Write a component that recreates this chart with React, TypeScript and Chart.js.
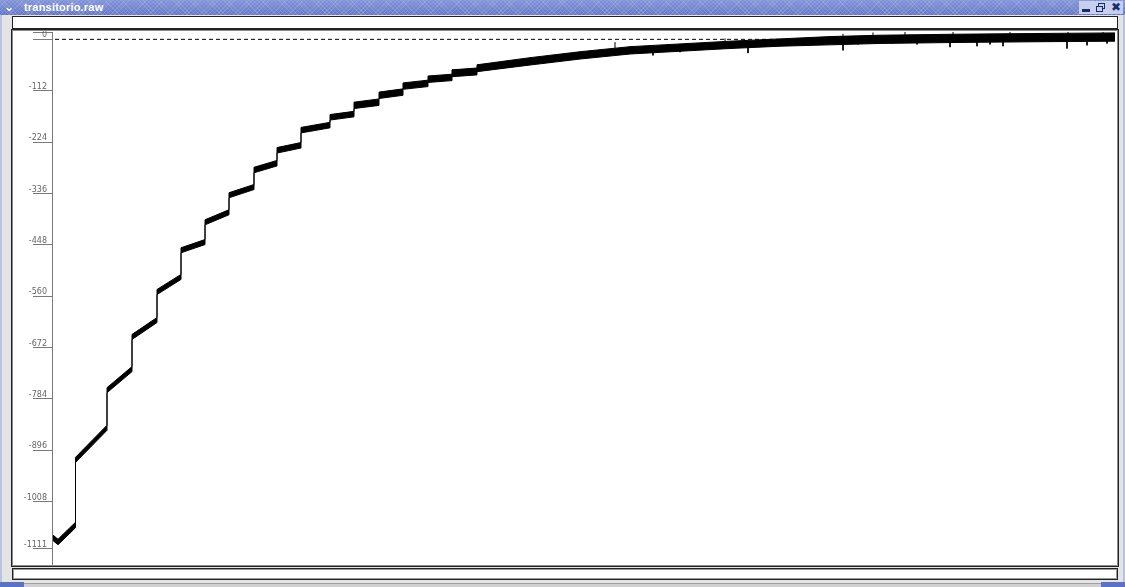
import React, { useEffect, useRef } from "react";
import { Chart, registerables } from "chart.js";

Chart.register(...registerables);

// time axis in samples (arbitrary units), signal in raw units
const timeMin = 0;
const timeMax = 1063;
const valueMin = -1144;
const valueMax = 16;

// y tick values shown on the axis
const tickValues = [16, 0, -112, -224, -336, -448, -560, -672, -784, -896, -1008, -1111];

// centre of the noisy trace (duplicate times mark the vertical steps)
const traceT = [
  1, 6, 23.5,
  23.5, 55,
  55, 80,
  80, 105,
  105, 129,
  129, 153,
  153, 177,
  177, 202,
  202, 225,
  225, 249,
  249, 278,
  278, 302,
  302, 327,
  327, 351,
  351, 376,
  376, 400,
  400, 425,
  425, 478, 528, 578, 628, 678, 728, 778, 828, 898, 948, 998, 1063,
];
const traceV = [
  -1087, -1096, -1059,
  -917, -847,
  -765, -719,
  -649, -612,
  -551, -518,
  -460, -442,
  -399, -377,
  -340, -322,
  -285, -270,
  -242, -231,
  -198, -187,
  -170, -163,
  -144, -137,
  -122, -115,
  -102, -96,
  -87, -83,
  -74, -70,
  -63, -48, -35, -24, -18, -12, -7, -3, 0, 2, 3, 4, 5,
];
// half thickness of the noise band at each point
const noiseHW = [
  6, 6, 6,
  5.5, 5.5,
  5.5, 5.5,
  5.5, 5.5,
  5.5, 5.5,
  5.5, 5.5,
  5.5, 5.5,
  5.5, 5.5,
  6, 6,
  6, 6,
  6, 6,
  6, 6,
  7, 7,
  7, 7,
  7, 7,
  7, 7,
  7.5, 7.5,
  7.5, 8, 8, 8, 8, 8, 8, 9, 9, 9, 9, 9, 9,
];

// isolated noise spikes: time, band value, tip value
const spikeT = [601, 628, 696, 791, 806, 840, 865, 898, 925, 938, 951, 1015, 1035, 1055, 563, 673, 791, 821, 853, 901, 958, 1016, 1051];
const spikeBase = [-21, -18, -10, -2, -1, 0, 1, 2, 2, 3, 3, 4, 5, 5, -27, -12, -2, 0, 1, 2, 3, 4, 5];
const spikeTip = [-35, -28, -30, -24, -11, -9, -11, -17, -15, -11, -15, -20, -13, -9, -6, 2, 12, 15, 16, 16, 16, 16, 16];

// dashed reference line at zero
const zeroT = [3, 1063];
const zeroV = [0, 0];

export default function App() {
  const canvasRef = useRef<HTMLCanvasElement | null>(null);

  useEffect(() => {
    const canvas = canvasRef.current;
    if (!canvas) return;
    const upper = traceT.map((t, i) => ({ x: t, y: traceV[i] + noiseHW[i] }));
    const lower = traceT.map((t, i) => ({ x: t, y: traceV[i] - noiseHW[i] }));
    const zero = zeroT.map((t, i) => ({ x: t, y: zeroV[i] }));
    const spikes: { x: number; y: number | null }[] = [];
    spikeT.forEach((t, i) => {
      spikes.push({ x: t, y: spikeBase[i] });
      spikes.push({ x: t, y: spikeTip[i] });
      spikes.push({ x: t, y: null });
    });

    const chart = new Chart(canvas, {
      type: "line",
      data: {
        datasets: [
          {
            data: zero,
            borderColor: "#000",
            borderWidth: 1,
            borderDash: [4, 3],
            pointRadius: 0,
            fill: false,
          },
          {
            data: upper,
            borderColor: "#000",
            backgroundColor: "#000",
            borderWidth: 1,
            pointRadius: 0,
            tension: 0,
            fill: "+1",
          },
          {
            data: lower,
            borderColor: "#000",
            borderWidth: 1,
            pointRadius: 0,
            tension: 0,
            fill: false,
          },
          {
            data: spikes as any,
            borderColor: "#000",
            borderWidth: 1,
            pointRadius: 0,
            spanGaps: false,
            fill: false,
          },
        ],
      },
      options: {
        animation: false,
        responsive: false,
        devicePixelRatio: 1,
        events: [],
        layout: { padding: { top: 1, right: 2, bottom: 1, left: 0 } },
        plugins: {
          legend: { display: false },
          tooltip: { enabled: false },
        },
        scales: {
          x: { type: "linear", min: timeMin, max: timeMax, display: false, offset: false },
          y: {
            type: "linear",
            min: valueMin,
            max: valueMax,
            afterBuildTicks: (axis: any) => {
              axis.ticks = tickValues.map((v) => ({ value: v }));
            },
            afterFit: (axis: any) => {
              axis.width = 39;
            },
            border: { display: true, color: "#7a7a7a", width: 1 },
            grid: {
              drawOnChartArea: false,
              drawTicks: true,
              tickLength: 19,
              tickColor: "#7a7a7a",
            },
            ticks: {
              autoSkip: false,
              padding: -14,
              labelOffset: -4,
              color: "#666",
              font: { family: "DejaVu Sans", size: 8 },
              callback: (v: any) => String(v),
            },
          },
        },
      },
    });
    return () => chart.destroy();
  }, []);

  const abs = (s: React.CSSProperties): React.CSSProperties => ({ position: "absolute", boxSizing: "border-box", ...s });

  return (
    <div style={{ position: "fixed", left: 0, top: 0, width: 1125, height: 587, background: "#e4e4e4", overflow: "hidden" }}>
      {/* left and right window edges */}
      <div style={abs({ left: 0, top: 0, width: 2, height: 587, background: "#b9c2e4" })} />
      <div style={abs({ right: 0, top: 0, width: 2, height: 587, background: "#b9c2e4" })} />
      {/* title bar */}
      <div
        style={abs({
          left: 0,
          top: 0,
          width: 1125,
          height: 15,
          background:
            "repeating-linear-gradient(45deg, rgba(255,255,255,0.13) 0 1px, transparent 1px 3px), repeating-linear-gradient(-45deg, rgba(255,255,255,0.13) 0 1px, transparent 1px 3px), linear-gradient(#7f92d8, #6477c6)",
        })}
      >
        <div style={abs({ left: 4, top: 0, width: 14, height: 15, color: "#fff", font: "bold 12px 'DejaVu Sans'", lineHeight: "14px" })}>⌄</div>
        <div style={abs({ left: 24, top: 1, color: "#fff", font: "bold 11px 'Liberation Sans'", lineHeight: "13px", letterSpacing: 0.2 })}>
          transitorio.raw
        </div>
        <div style={abs({ left: 1079, top: 1, width: 44, height: 13, background: "#c7cfee" })}>
          <div style={abs({ left: 3, top: 8, width: 8, height: 3, background: "#1c2b6b" })} />
          <div style={abs({ left: 19, top: 2, width: 7, height: 6, border: "1.5px solid #1c2b6b" })} />
          <div style={abs({ left: 17, top: 5, width: 7, height: 6, border: "1.5px solid #1c2b6b", background: "#c7cfee" })} />
          <div style={abs({ left: 32, top: -1, color: "#1c2b6b", font: "bold 12px 'DejaVu Sans'", lineHeight: "14px" })}>✖</div>
        </div>
      </div>
      {/* top entry box */}
      <div style={abs({ left: 12, top: 16, width: 1106, height: 13, background: "#fff", border: "1px solid #222" })} />
      {/* chart frame */}
      <div style={abs({ left: 11, top: 29, width: 1108, height: 538, background: "#fff", border: "1px solid #222", boxShadow: "inset 0 0 0 1px #8a8a8a" })} />
      <canvas ref={canvasRef} width={1104} height={534} style={{ position: "absolute", left: 13, top: 31, width: 1104, height: 534 }} />
      {/* bottom box */}
      <div style={abs({ left: 12, top: 568, width: 1106, height: 12, background: "#fff", border: "1px solid #222", boxShadow: "inset 0 0 0 1px #9a9a9a" })} />
      {/* bottom border with corner handles */}
      <div style={abs({ left: 0, top: 583, width: 1125, height: 4, background: "#d0d0d0", borderTop: "1px solid #a0a0a0" })} />
      <div style={abs({ left: 0, top: 582, width: 24, height: 5, background: "#5c70c4" })} />
      <div style={abs({ left: 1101, top: 582, width: 24, height: 5, background: "#5c70c4" })} />
    </div>
  );
}
